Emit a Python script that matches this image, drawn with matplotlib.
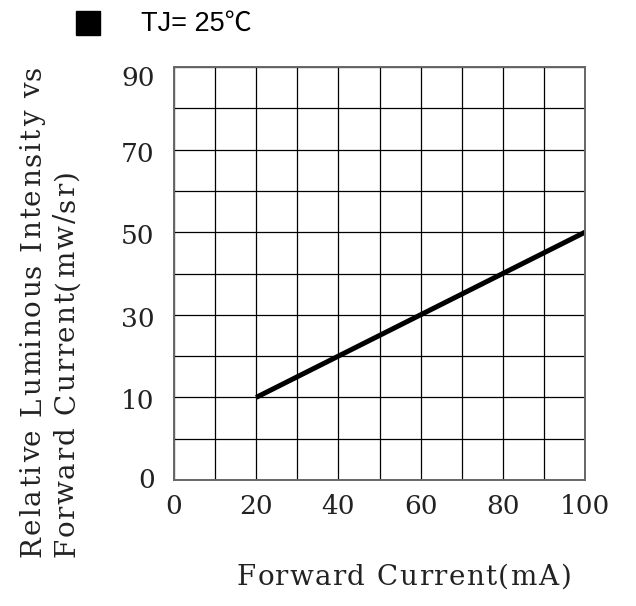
import matplotlib
matplotlib.use("Agg")
import matplotlib.pyplot as plt
from matplotlib.patches import Rectangle
from matplotlib.font_manager import FontProperties

# datos
corriente = [20, 100]          # mA
intensidad = [10, 50]          # mw/sr
x_ticks = [0, 20, 40, 60, 80, 100]
y_labels = ['0', '10', '30', '50', '70', '90']

serif = 'DejaVu Serif'
gris = '#222222'

fig = plt.figure(figsize=(6.36, 6.06), dpi=100)
ax = fig.add_axes([174/636, 1 - 480/606, 411/636, 413/606])

ax.plot(corriente, intensidad, color='black', lw=3.6, solid_capstyle='butt')

ax.set_xlim(0, 100)
ax.set_ylim(-10, 90)
ax.xaxis.remove_overlapping_locs = False
ax.yaxis.remove_overlapping_locs = False
ax.set_xticks(range(0, 101, 10), minor=True)
ax.set_yticks(range(-10, 91, 10), minor=True)
ax.set_xticks(x_ticks)
ax.set_xticklabels([str(v) for v in x_ticks], fontfamily=serif, fontsize=19)
# las etiquetas del original no caen justo sobre la grilla
ax.set_yticks([-9.5, 9.5, 29.5, 49.5, 69.5, 87.7])
ax.set_yticklabels(y_labels, fontfamily=serif, fontsize=19)
ax.tick_params(which='both', length=0)
ax.tick_params(axis='x', pad=10, colors=gris)
ax.tick_params(axis='y', pad=14, colors=gris)
ax.grid(which='minor', color='black', lw=0.9)
ax.grid(which='major', visible=False)
for s in ax.spines.values():
    s.set_color('#666666')
    s.set_linewidth(1.4)

# texto con letras mas separadas, como en el original
renderer = fig.canvas.get_renderer()
prop = FontProperties(family=serif, size=20)


def ancho(t):
    return renderer.get_text_width_height_descent(t, prop, ismath=False)[0]


def texto_espaciado(x0, y0, s, extra, vertical=False):
    for i, c in enumerate(s):
        if c == ' ':
            continue
        d = ancho(s[:i] + 'x') - ancho('x') + i * extra
        if vertical:
            fig.text(x0 / 636, 1 - (y0 - d) / 606, c, fontproperties=prop, color=gris,
                     rotation=90, rotation_mode='anchor', ha='left', va='baseline')
        else:
            fig.text((x0 + d) / 636, 1 - y0 / 606, c, fontproperties=prop, color=gris,
                     ha='left', va='baseline')


texto_espaciado(40, 557, 'Relative Luminous Intensity vs', 2.0, vertical=True)
texto_espaciado(74, 557, 'Forward Current(mw/sr)', 1.9, vertical=True)
texto_espaciado(237, 585, 'Forward Current(mA)', 1.5)

fig.patches.append(Rectangle((76/636, 1 - 35/606), 24/636, 24/606,
                             transform=fig.transFigure, color='black'))
fig.text(141/636, 1 - 24/606, 'TJ= 25℃', ha='left', va='center',
         family=['Liberation Sans', 'Noto Sans CJK SC', 'DejaVu Sans'], fontsize=19.5)

fig.savefig('out.png', dpi=100)
